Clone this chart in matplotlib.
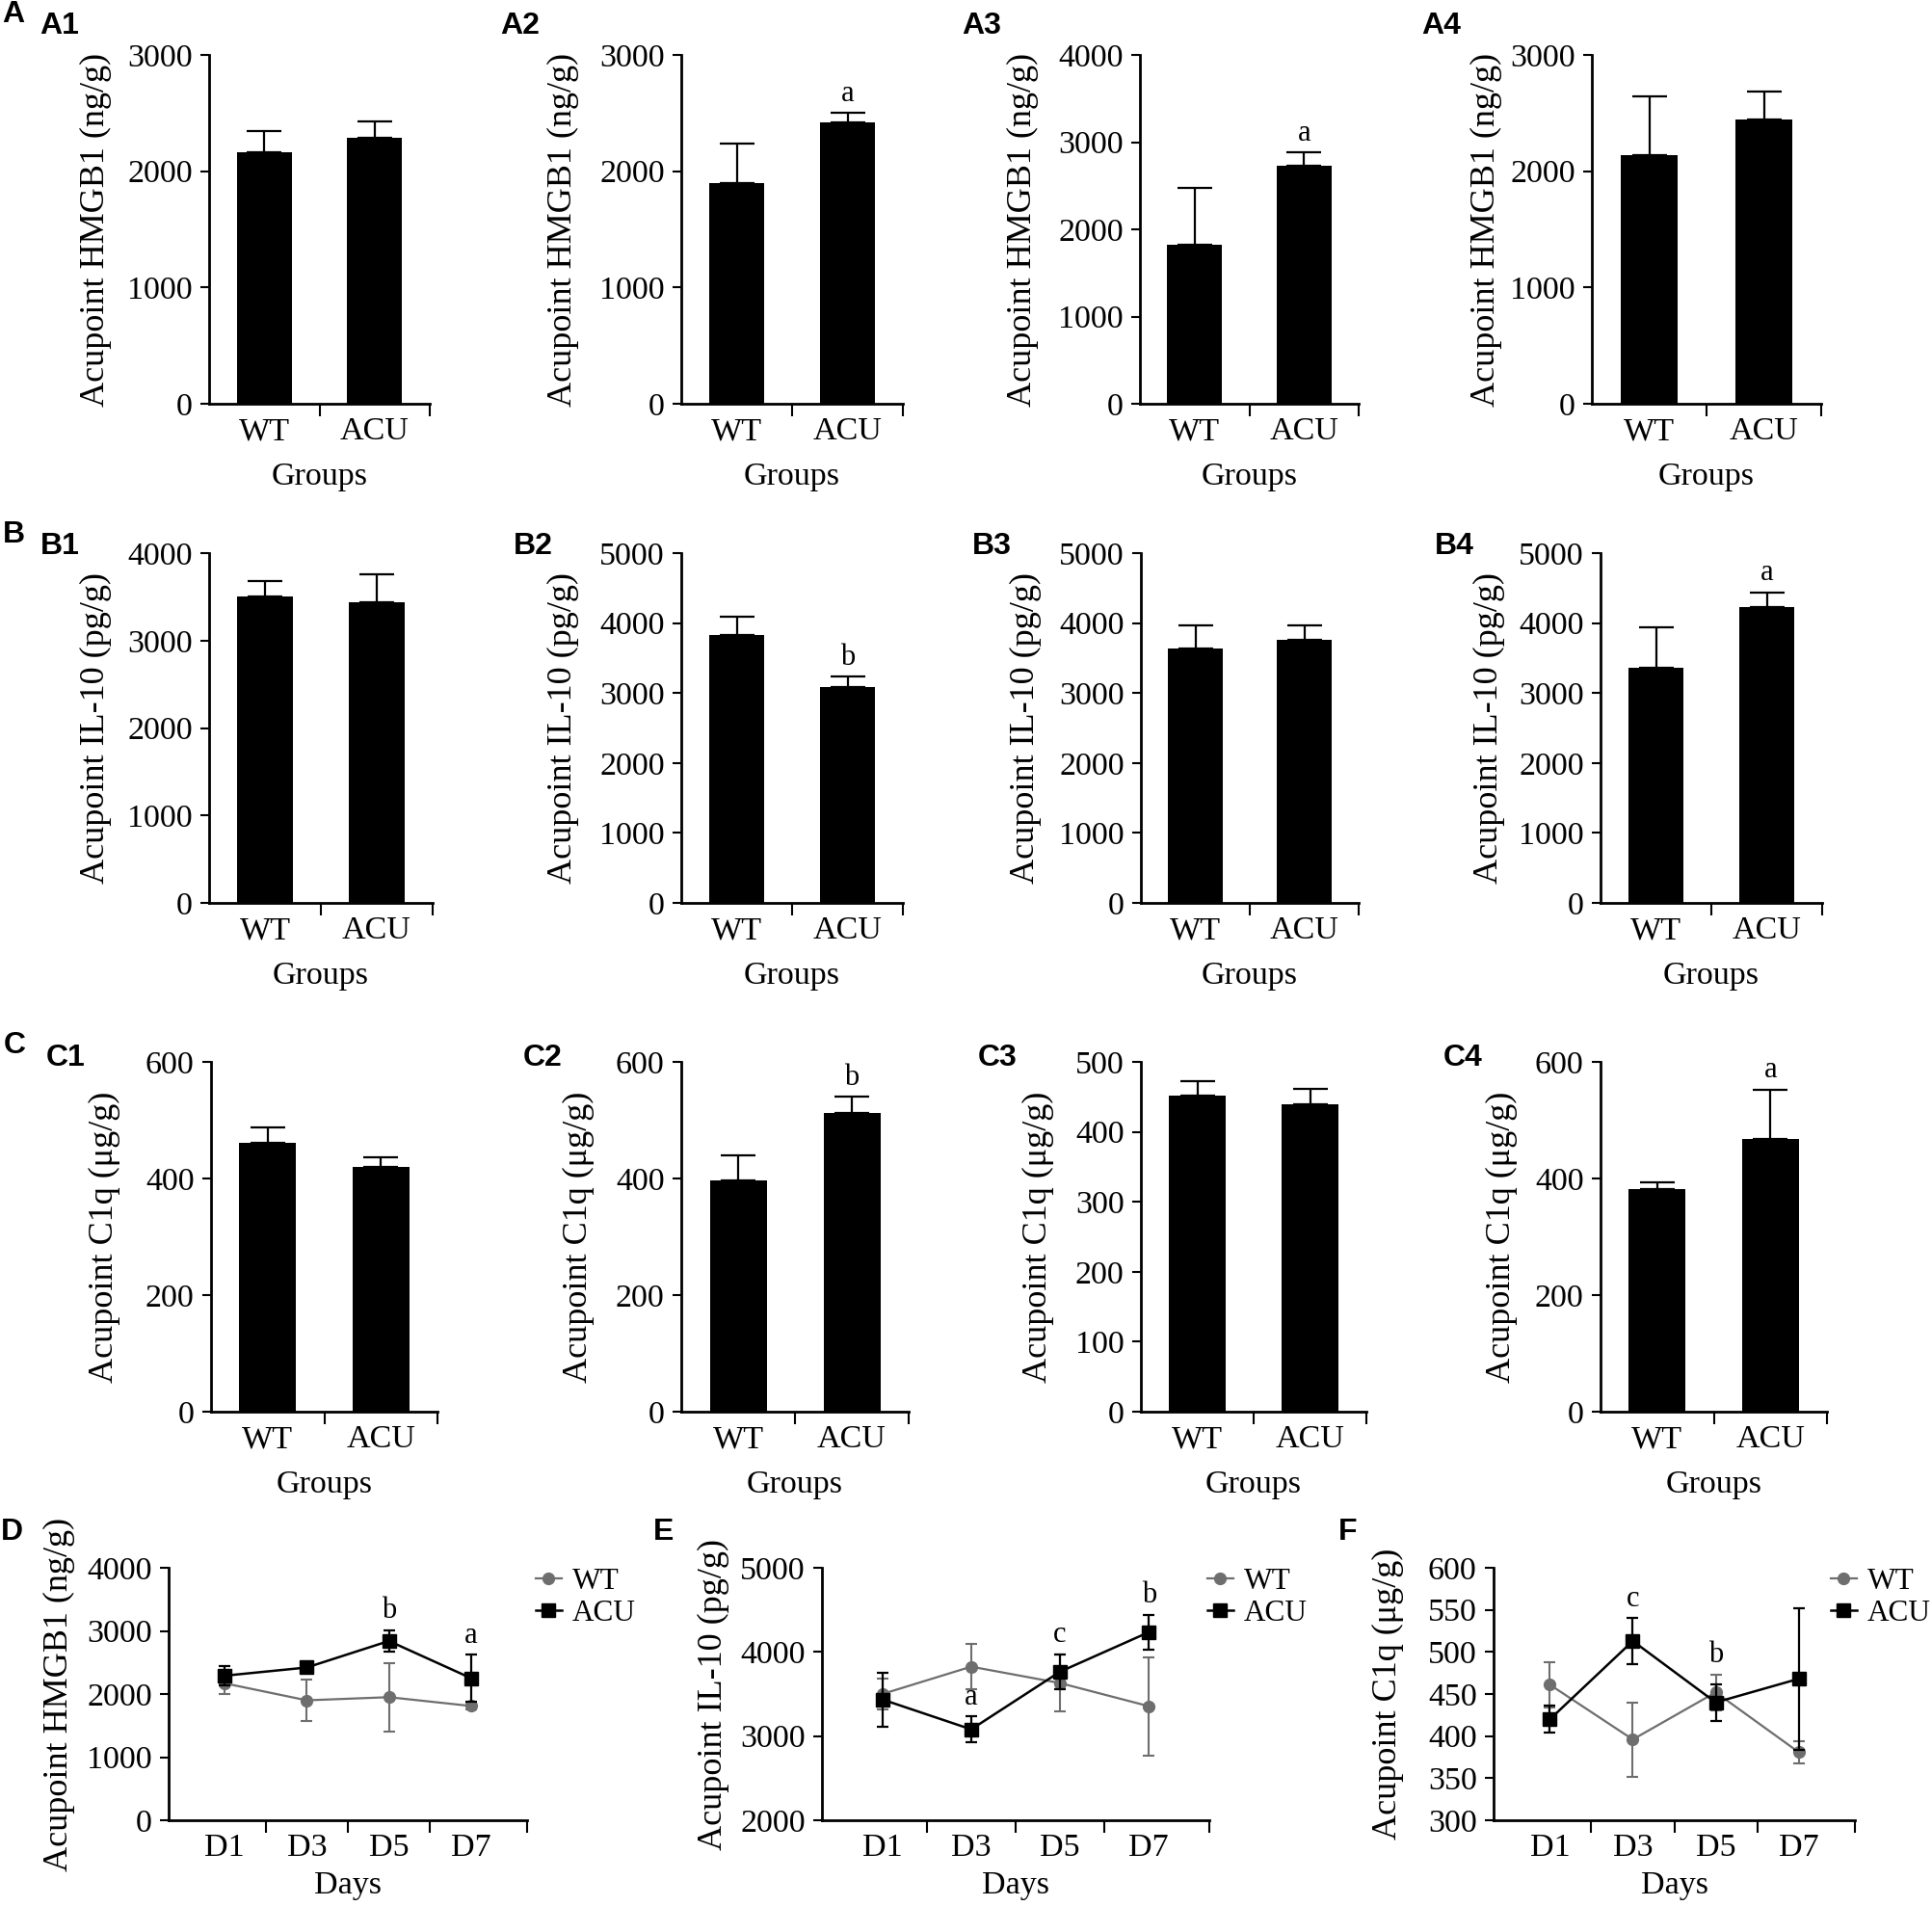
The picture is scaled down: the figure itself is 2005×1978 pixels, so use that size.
import numpy as np
import matplotlib
matplotlib.use("Agg")
import matplotlib.pyplot as plt

plt.rcParams['font.family'] = ['Liberation Serif', 'DejaVu Serif']

W, H = 2005, 1978

groups = ["WT", "ACU"]
days = ["D1", "D3", "D5", "D7"]

# row A : HMGB1 (ng/g)
a_mean = [[2165, 2285], [1900, 2420], [1820, 2725], [2140, 2445]]
a_err = [[180, 140], [340, 80], [650, 155], [505, 240]]
# row B : IL-10 (pg/g)
b_mean = [[3500, 3435], [3825, 3080], [3630, 3765], [3355, 4235]]
b_err = [[185, 320], [265, 155], [340, 205], [585, 205]]
# row C : C1q (ug/g)
c_mean = [[461, 420], [396, 513], [452, 440], [381, 468]]
c_err = [[27, 16], [44, 27], [21, 22], [13, 84]]

# D : HMGB1 over days
d_wt = [2170, 1900, 1950, 1810]
d_wt_err = [170, 335, 540, 50]
d_acu = [2290, 2420, 2840, 2250]
d_acu_err = [150, 40, 175, 375]
# E : IL-10 over days (same data as row B)
e_wt = [m[0] for m in b_mean]
e_wt_err = [e[0] for e in b_err]
e_acu = [m[1] for m in b_mean]
e_acu_err = [e[1] for e in b_err]
# F : C1q over days (same data as row C)
f_wt = [m[0] for m in c_mean]
f_wt_err = [e[0] for e in c_err]
f_acu = [m[1] for m in c_mean]
f_acu_err = [e[1] for e in c_err]

a_sig = [None, "a", "a", None]
b_sig = [None, "b", None, "a"]
c_sig = [None, "b", None, "a"]

GRAY = "#6e6e6e"
TICK_FS = 24.5
LAB_FS = 26
SIG_FS = 22
TAG_FS = 23

fig = plt.figure(figsize=(W / 100, H / 100), dpi=100)


def px_axes(x0, x1, y0, y1):
    return fig.add_axes([x0 / W, 1 - y1 / H, (x1 - x0) / W, (y1 - y0) / H])


def style_axes(ax):
    for s in ["top", "right"]:
        ax.spines[s].set_visible(False)
    for s in ["left", "bottom"]:
        ax.spines[s].set_linewidth(2)
    ax.tick_params(axis="y", length=6.5, width=1.5, pad=6, labelsize=TICK_FS)
    ax.tick_params(axis="x", which="major", length=0, pad=10, labelsize=TICK_FS)
    ax.tick_params(axis="x", which="minor", length=9.5, width=1.5, direction="out")


def set_labels(ax, box, ylabel, xlabel, ygap, xgap):
    x0, x1, y0, y1 = box
    ax.set_ylabel(ylabel, fontsize=LAB_FS)
    ax.yaxis.label.set_va("center")
    ax.yaxis.set_label_coords(-ygap / (x1 - x0), 0.5)
    ax.set_xlabel(xlabel, fontsize=TICK_FS)
    ax.xaxis.label.set_va("center")
    ax.xaxis.set_label_coords(0.5, -xgap / (y1 - y0))


def bar_panel(box, means, errs, ymax, ystep, ylabel, sig, ygap):
    ax = px_axes(*box)
    x = np.arange(len(groups))
    ax.bar(x, means, width=0.5, color="black", zorder=2)
    ax.errorbar(x, means, yerr=[np.zeros(len(errs)), errs], fmt="none",
                ecolor="black", elinewidth=1.6, capsize=13, capthick=1.6, zorder=1)
    ax.set_xlim(-0.5, 1.5)
    ax.set_ylim(0, ymax)
    ax.set_yticks(np.arange(0, ymax + 1, ystep))
    ax.set_xticks(x)
    ax.set_xticklabels(groups)
    ax.set_xticks([0.5, 1.5], minor=True)
    style_axes(ax)
    if sig:
        ax.annotate(sig, (1, means[1] + errs[1]), xytext=(0, 4), textcoords="offset points",
                    ha="center", va="bottom", fontsize=SIG_FS)
    set_labels(ax, box, ylabel, "Groups", ygap, 76)
    return ax


def line_panel(box, wt, wt_err, acu, acu_err, ymin, ymax, ystep, ylabel, sigs, ygap, leg_x):
    ax = px_axes(*box)
    x = np.arange(len(days))
    ax.errorbar(x, wt, yerr=wt_err, fmt="none", ecolor=GRAY, elinewidth=1.5,
                capsize=4.5, capthick=1.5, zorder=2)
    ax.plot(x, wt, color=GRAY, lw=1.6, marker="o", ms=8.5, label="WT", zorder=3)
    ax.errorbar(x, acu, yerr=acu_err, fmt="none", ecolor="black", elinewidth=1.6,
                capsize=4.5, capthick=1.6, zorder=4)
    ax.plot(x, acu, color="black", lw=1.8, marker="s", ms=9.5, label="ACU", zorder=5)
    ax.set_xlim(-0.68, 3.68)
    ax.set_ylim(ymin, ymax)
    ax.set_yticks(np.arange(ymin, ymax + 1, ystep))
    ax.set_xticks(x)
    ax.set_xticklabels(days)
    ax.set_xticks([0.5, 1.5, 2.5, 3.68], minor=True)
    style_axes(ax)
    for idx, letter, top in sigs:
        ax.annotate(letter, (idx, top), xytext=(0, 4), textcoords="offset points",
                    ha="center", va="bottom", fontsize=SIG_FS)
    set_labels(ax, box, ylabel, "Days", ygap, 68)
    ax.legend(loc="upper left", bbox_to_anchor=(leg_x / W, 1 - 1627 / H),
              bbox_transform=fig.transFigure, frameon=False, fontsize=22.5,
              borderpad=0, borderaxespad=0, handlelength=0.85, handletextpad=0.35,
              labelspacing=0.12)
    return ax


def tag(x, y, s):
    fig.text(x / W, 1 - y / H, s, ha="center", va="center", fontsize=TAG_FS,
             fontweight="bold", family=["Liberation Sans", "DejaVu Sans"])


# row A
a_boxes = [(217, 446, 57, 419), (707, 937, 57, 419), (1183, 1410, 57, 419), (1652, 1890, 57, 419)]
a_ymax = [3000, 3000, 4000, 3000]
a_gap = [118, 123, 122, 110]
for i in range(4):
    bar_panel(a_boxes[i], a_mean[i], a_err[i], a_ymax[i], 1000,
              "Acupoint HMGB1 (ng/g)", a_sig[i], a_gap[i])

# row B
b_boxes = [(217, 449, 574, 937), (707, 937, 574, 937), (1184, 1410, 574, 937), (1661, 1891, 574, 937)]
b_ymax = [4000, 5000, 5000, 5000]
b_gap = [118, 123, 120, 116]
for i in range(4):
    bar_panel(b_boxes[i], b_mean[i], b_err[i], b_ymax[i], 1000,
              "Acupoint IL-10 (pg/g)", b_sig[i], b_gap[i])

# row C
c_boxes = [(219, 454, 1102, 1465), (707, 943, 1102, 1465), (1184, 1418, 1102, 1465), (1661, 1896, 1102, 1465)]
c_ymax = [600, 600, 500, 600]
c_step = [200, 200, 100, 200]
c_gap = [111, 107, 107, 103]
for i in range(4):
    bar_panel(c_boxes[i], c_mean[i], c_err[i], c_ymax[i], c_step[i],
              "Acupoint C1q (\u03bcg/g)", c_sig[i], c_gap[i])

# row D/E/F
line_panel((175, 547, 1627, 1889), d_wt, d_wt_err, d_acu, d_acu_err, 0, 4000, 1000,
           "Acupoint HMGB1 (ng/g)",
           [(2, "b", d_acu[2] + d_acu_err[2]), (3, "a", d_acu[3] + d_acu_err[3])], 114, 556)
line_panel((853, 1255, 1627, 1889), e_wt, e_wt_err, e_acu, e_acu_err, 2000, 5000, 1000,
           "Acupoint IL-10 (pg/g)",
           [(1, "a", e_acu[1] + e_acu_err[1]), (2, "c", e_acu[2] + e_acu_err[2]),
            (3, "b", e_acu[3] + e_acu_err[3])], 113, 1253)
line_panel((1550, 1925, 1627, 1889), f_wt, f_wt_err, f_acu, f_acu_err, 300, 600, 50,
           "Acupoint C1q (\u03bcg/g)",
           [(1, "c", f_acu[1] + f_acu_err[1]), (2, "b", max(f_wt[2] + f_wt_err[2], f_acu[2] + f_acu_err[2]))],
           110, 1900)

# panel tags
tag(14, 15, "A")
for x, s in zip([62, 540, 1019, 1496], ["A1", "A2", "A3", "A4"]):
    tag(x, 27, s)
tag(14, 555, "B")
for x, s in zip([62, 553, 1029, 1509], ["B1", "B2", "B3", "B4"]):
    tag(x, 567, s)
tag(15, 1085, "C")
for x, s in zip([68, 563, 1035, 1518], ["C1", "C2", "C3", "C4"]):
    tag(x, 1098, s)
tag(12, 1590, "D")
tag(689, 1590, "E")
tag(1399, 1590, "F")

fig.savefig("out.png", dpi=100)
